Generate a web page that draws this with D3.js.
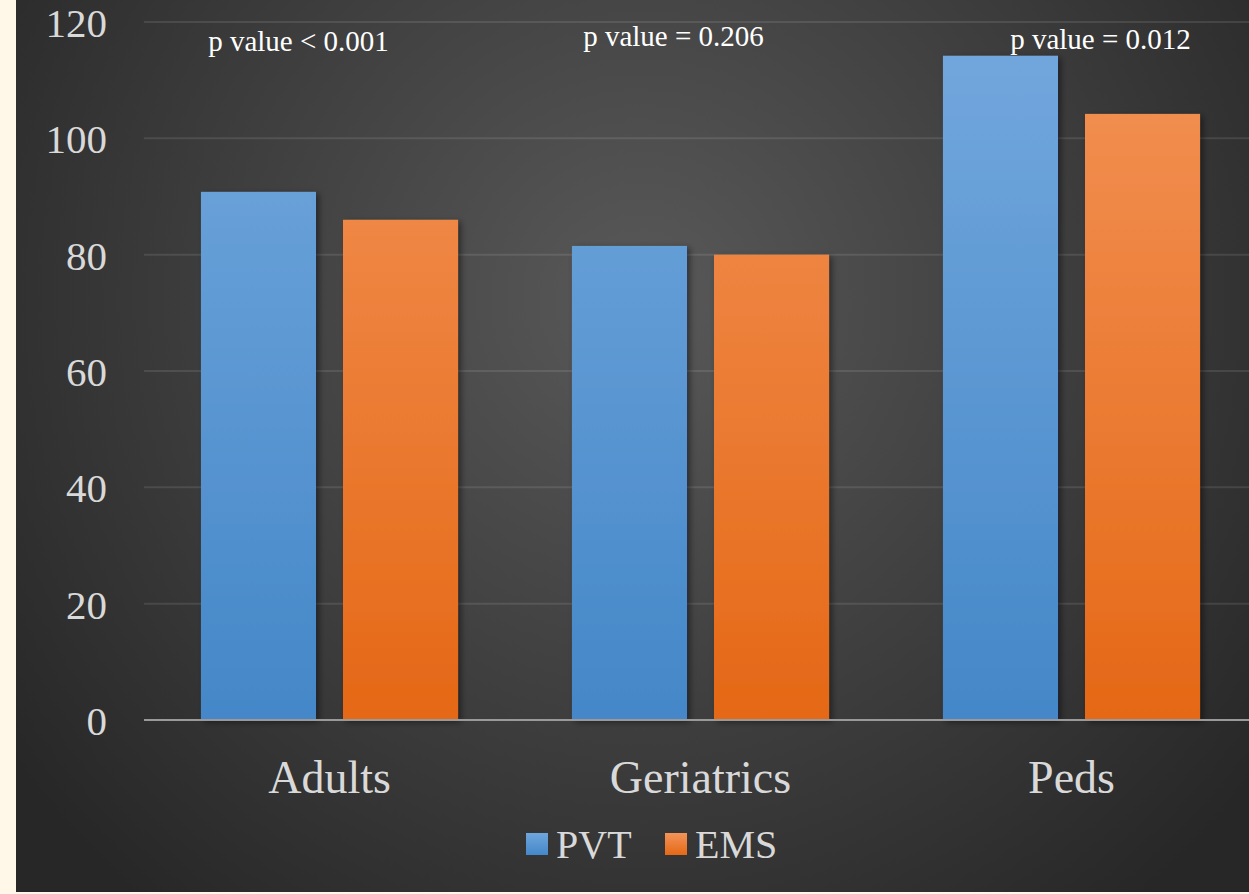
<!DOCTYPE html>
<html>
<head>
<meta charset="utf-8">
<script src="https://cdn.jsdelivr.net/npm/d3@7"></script>
<style>
  html, body { margin: 0; padding: 0; background: #fff8e8; }
  svg { display: block; }
  svg text { font-family: "Liberation Serif", "Times New Roman", serif; }
</style>
</head>
<body>
<div id="chart"></div>
<script>
// Mean scores by patient group, private vehicle vs EMS transport
const categories = ["Adults", "Geriatrics", "Peds"];
const seriesNames = ["PVT", "EMS"];
const pvtValues = [90.8, 81.5, 114.2];
const emsValues = [86.0, 80.0, 104.2];
const pValueLabels = ["p value < 0.001", "p value = 0.206", "p value = 0.012"];
const yTicks = [0, 20, 40, 60, 80, 100, 120];

const W = 1249, H = 894;
const panel = { x: 16, y: 0, w: W - 16, h: 892 };
const plot = { left: 144, right: 1257, top: 22, bottom: 720 };
const font = "Liberation Serif, Times New Roman, serif";
const textColor = "#d9d9d9";

const svg = d3.select("#chart").append("svg")
  .attr("width", W).attr("height", H);

const defs = svg.append("defs");

const bg = defs.append("radialGradient").attr("id", "bgGrad")
  .attr("gradientUnits", "userSpaceOnUse")
  .attr("cx", 640).attr("cy", 300).attr("r", 780);
bg.append("stop").attr("offset", "0%").attr("stop-color", "#595959");
bg.append("stop").attr("offset", "100%").attr("stop-color", "#272727");

function barGradient(id, top, bottom) {
  const g = defs.append("linearGradient").attr("id", id)
    .attr("gradientUnits", "userSpaceOnUse")
    .attr("x1", 0).attr("y1", 0).attr("x2", 0).attr("y2", plot.bottom);
  g.append("stop").attr("offset", "0%").attr("stop-color", top);
  g.append("stop").attr("offset", "100%").attr("stop-color", bottom);
}
barGradient("pvtGrad", "#75a9de", "#4487c8");
barGradient("emsGrad", "#f39459", "#e56816");

const shadow = defs.append("filter").attr("id", "barShadow")
  .attr("x", "-20%").attr("y", "-10%").attr("width", "140%").attr("height", "120%");
shadow.append("feDropShadow").attr("dx", 3).attr("dy", 2)
  .attr("stdDeviation", 3).attr("flood-color", "#000").attr("flood-opacity", 0.45);

// background panel
svg.append("rect")
  .attr("x", panel.x).attr("y", panel.y)
  .attr("width", panel.w).attr("height", panel.h)
  .attr("fill", "url(#bgGrad)");

const x = d3.scaleBand().domain(categories)
  .range([plot.left, plot.right]).paddingInner(0).paddingOuter(0);
const xs = d3.scaleBand().domain(seriesNames)
  .range([0, x.bandwidth()]).paddingInner(0.19).paddingOuter(0.401);
const y = d3.scaleLinear().domain([0, 120]).range([plot.bottom, plot.top]);

// gridlines
svg.append("g").selectAll("line")
  .data(yTicks.filter(t => t > 0)).join("line")
  .attr("x1", plot.left).attr("x2", W)
  .attr("y1", d => y(d)).attr("y2", d => y(d))
  .attr("stroke", "#ffffff").attr("stroke-opacity", 0.1).attr("stroke-width", 2);

// y axis labels
const yAxis = svg.append("g")
  .attr("transform", `translate(${plot.left - 37},0)`)
  .call(d3.axisLeft(y).tickValues(yTicks).tickSize(0).tickPadding(0));
yAxis.attr("font-family", null);
yAxis.select(".domain").remove();
yAxis.selectAll("text")
  .attr("fill", textColor).style("font-family", font).style("font-size", "41px")
  .attr("dy", "0.35em");

// bars
const rows = categories.map((c, i) => ({
  category: c,
  values: [
    { series: "PVT", value: pvtValues[i], fill: "url(#pvtGrad)" },
    { series: "EMS", value: emsValues[i], fill: "url(#emsGrad)" }
  ]
}));

svg.append("g").selectAll("g")
  .data(rows).join("g")
  .attr("transform", d => `translate(${x(d.category)},0)`)
  .selectAll("rect")
  .data(d => d.values).join("rect")
  .attr("x", d => xs(d.series))
  .attr("width", xs.bandwidth())
  .attr("y", d => y(d.value))
  .attr("height", d => y(0) - y(d.value))
  .attr("fill", d => d.fill)
  .attr("filter", "url(#barShadow)");

// baseline axis
svg.append("line")
  .attr("x1", plot.left).attr("x2", W)
  .attr("y1", y(0)).attr("y2", y(0))
  .attr("stroke", "#9a9a9a").attr("stroke-width", 2);

// category labels
const xAxis = svg.append("g")
  .attr("transform", `translate(0,${y(0)})`)
  .call(d3.axisBottom(x).tickSize(0).tickPadding(0));
xAxis.attr("font-family", null);
xAxis.select(".domain").remove();
xAxis.selectAll("text")
  .attr("fill", textColor).style("font-family", font).style("font-size", "46px")
  .attr("y", 73).attr("dy", 0);

// p-value annotations
const pLabelDx = [-31, -27, 29];
const pLabelY = [51, 46, 49];
svg.append("g").selectAll("text")
  .data(pValueLabels).join("text")
  .attr("x", (d, i) => x(categories[i]) + x.bandwidth() / 2 + pLabelDx[i])
  .attr("y", (d, i) => pLabelY[i])
  .attr("text-anchor", "middle")
  .attr("fill", "#ffffff").style("font-family", font).style("font-size", "29px")
  .text(d => d);

// legend
const legendItems = [
  { name: "PVT", fill: "url(#pvtLeg)", x: 526 },
  { name: "EMS", fill: "url(#emsLeg)", x: 665 }
];
[["pvtLeg", "#6fa6dc", "#4487c8"], ["emsLeg", "#f39459", "#e56816"]].forEach(([id, a, b]) => {
  const g = defs.append("linearGradient").attr("id", id)
    .attr("x1", 0).attr("y1", 0).attr("x2", 0).attr("y2", 1);
  g.append("stop").attr("offset", "0%").attr("stop-color", a);
  g.append("stop").attr("offset", "100%").attr("stop-color", b);
});
const legend = svg.append("g").selectAll("g")
  .data(legendItems).join("g")
  .attr("transform", d => `translate(${d.x},833)`);
legend.append("rect")
  .attr("width", 22).attr("height", 22).attr("fill", d => d.fill);
legend.append("text")
  .attr("x", 30).attr("y", 25)
  .attr("fill", textColor).style("font-family", font).style("font-size", "40px")
  .text(d => d.name);
</script>
</body>
</html>
